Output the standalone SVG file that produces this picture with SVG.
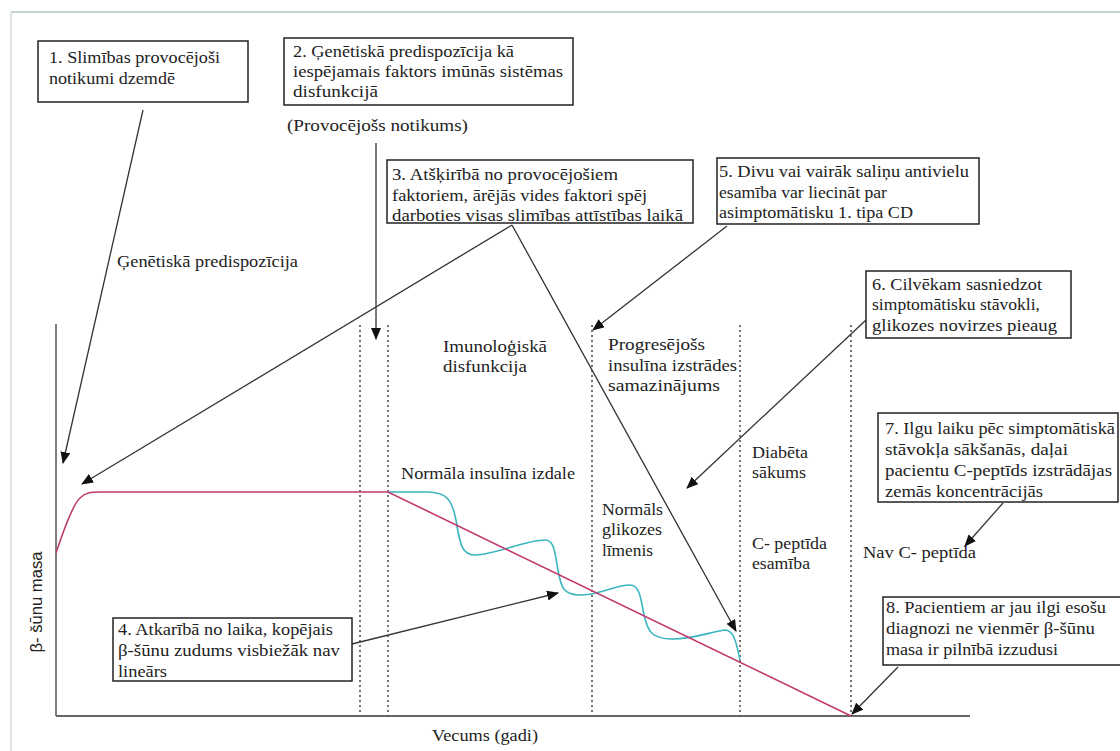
<svg xmlns="http://www.w3.org/2000/svg" width="1120" height="751" viewBox="0 0 1120 751">
<style>
.t{font-family:"Liberation Serif","DejaVu Serif","Times New Roman",serif;font-size:17px;fill:#222}
.s{font-family:"Liberation Sans",Arial,sans-serif;font-size:16px;fill:#222}
.box{fill:#fff;stroke:#222;stroke-width:1.5}
.ar{stroke:#333;stroke-width:1.3;fill:none;marker-end:url(#ah)}
.dot{stroke:#444;stroke-width:1.5;stroke-dasharray:2 3;fill:none}
</style>
<defs>
<marker id="ah" viewBox="0 0 12 10" refX="11" refY="5" markerWidth="12" markerHeight="10" markerUnits="userSpaceOnUse" orient="auto">
<path d="M0,0 L12,5 L0,10 Z" fill="#111"/>
</marker>
</defs>
<rect width="1120" height="751" fill="#fff"/>
<line x1="11" y1="12" x2="1120" y2="12" stroke="#b5c2c4" stroke-width="1.5"/>
<line x1="11" y1="12" x2="11" y2="751" stroke="#d3dcde" stroke-width="1.5"/>

<g id="axes">
<line x1="56" y1="324" x2="56" y2="716" stroke="#555" stroke-width="1.5"/>
<line x1="56" y1="716" x2="970" y2="716" stroke="#666" stroke-width="1.8"/>
<text class="s" transform="translate(42,602) rotate(-90)" text-anchor="middle" textLength="101" lengthAdjust="spacingAndGlyphs">β- šūnu masa</text>
<text class="t" x="432" y="741" textLength="106" lengthAdjust="spacingAndGlyphs">Vecums (gadi)</text>
</g>

<g id="dividers">
<line class="dot" x1="360" y1="325" x2="360" y2="716"/>
<line class="dot" x1="388" y1="325" x2="388" y2="716"/>
<line class="dot" x1="592" y1="325" x2="592" y2="716"/>
<line class="dot" x1="740" y1="325" x2="740" y2="716"/>
<line class="dot" x1="851" y1="325" x2="851" y2="716"/>
</g>

<g id="curves">
<path d="M388,492 L427,492 C447,492 452,500 456,520 C460,545 462,555 475,555 C495,555 525,540 545,540 C555,540 555,555 558,570 C561,588 564,595 580,595 C600,595 615,585 630,585 C640,585 641,600 644,615 C648,632 652,638 670,639 C690,640 710,632 725,630 C733,630 736,640 740,660" fill="none" stroke="#3bb5c0" stroke-width="1.6"/>
<path d="M56,553 C62,535 72,505 80,498 C86,492 92,492 100,492 L388,492 L851,716" fill="none" stroke="#c23a6c" stroke-width="1.6"/>
</g>

<g id="labels">
<text class="t" x="117" y="267" textLength="181" lengthAdjust="spacingAndGlyphs">Ģenētiskā predispozīcija</text>
<text class="t" x="287" y="131" textLength="181" lengthAdjust="spacingAndGlyphs">(Provocējošs notikums)</text>
<text class="t" x="443" y="352" textLength="104" lengthAdjust="spacingAndGlyphs">Imunoloģiskā</text>
<text class="t" x="443" y="372" textLength="84" lengthAdjust="spacingAndGlyphs">disfunkcija</text>
<text class="t" x="608" y="350" textLength="97" lengthAdjust="spacingAndGlyphs">Progresējošs</text>
<text class="t" x="608" y="371" textLength="129" lengthAdjust="spacingAndGlyphs">insulīna izstrādes</text>
<text class="t" x="608" y="391" textLength="112" lengthAdjust="spacingAndGlyphs">samazinājums</text>
<text class="t" x="401" y="479" textLength="174" lengthAdjust="spacingAndGlyphs">Normāla insulīna izdale</text>
<text class="t" x="602" y="515" textLength="61" lengthAdjust="spacingAndGlyphs">Normāls</text>
<text class="t" x="602" y="535" textLength="60" lengthAdjust="spacingAndGlyphs">glikozes</text>
<text class="t" x="602" y="556" textLength="51" lengthAdjust="spacingAndGlyphs">līmenis</text>
<text class="t" x="752" y="458" textLength="56" lengthAdjust="spacingAndGlyphs">Diabēta</text>
<text class="t" x="752" y="478" textLength="54" lengthAdjust="spacingAndGlyphs">sākums</text>
<text class="t" x="752" y="549" textLength="75" lengthAdjust="spacingAndGlyphs">C- peptīda</text>
<text class="t" x="752" y="569" textLength="58" lengthAdjust="spacingAndGlyphs">esamība</text>
<text class="t" x="863" y="558" textLength="113" lengthAdjust="spacingAndGlyphs">Nav C- peptīda</text>
</g>

<g id="connectors">
<line class="ar" x1="143" y1="110" x2="63" y2="463"/>
<line class="ar" x1="376" y1="143" x2="376" y2="339"/>
<line class="ar" x1="512" y1="225" x2="82" y2="484"/>
<line class="ar" x1="512" y1="225" x2="736" y2="631"/>
<line class="ar" x1="727" y1="226" x2="593" y2="330"/>
<line class="ar" x1="866" y1="320" x2="687" y2="488"/>
<line class="ar" x1="352" y1="644" x2="558" y2="593"/>
<line class="ar" x1="1003" y1="503" x2="965" y2="546"/>
<line class="ar" x1="898" y1="667" x2="852" y2="714"/>
</g>

<g id="box1">
<rect class="box" x="38" y="41" width="210" height="61"/>
<text class="t" x="49" y="63" textLength="171" lengthAdjust="spacingAndGlyphs">1. Slimības provocējoši</text>
<text class="t" x="49" y="84" textLength="126" lengthAdjust="spacingAndGlyphs">notikumi dzemdē</text>
</g>
<g id="box2">
<rect class="box" x="284" y="38" width="289" height="67"/>
<text class="t" x="293" y="57" textLength="221" lengthAdjust="spacingAndGlyphs">2. Ģenētiskā predispozīcija kā</text>
<text class="t" x="293" y="77" textLength="270" lengthAdjust="spacingAndGlyphs">iespējamais faktors imūnās sistēmas</text>
<text class="t" x="293" y="97" textLength="85" lengthAdjust="spacingAndGlyphs">disfunkcijā</text>
</g>
<g id="box3">
<rect class="box" x="387" y="160" width="306" height="63"/>
<text class="t" x="392" y="180" textLength="226" lengthAdjust="spacingAndGlyphs">3. Atšķirībā no provocējošiem</text>
<text class="t" x="392" y="201" textLength="255" lengthAdjust="spacingAndGlyphs">faktoriem, ārējās vides faktori spēj</text>
<text class="t" x="392" y="221" textLength="291" lengthAdjust="spacingAndGlyphs">darboties visas slimības attīstības laikā</text>
</g>
<g id="box4">
<rect class="box" x="113" y="618" width="239" height="63"/>
<text class="t" x="118" y="635" textLength="215" lengthAdjust="spacingAndGlyphs">4. Atkarībā no laika, kopējais</text>
<text class="t" x="118" y="656" textLength="222" lengthAdjust="spacingAndGlyphs">β-šūnu zudums visbiežāk nav</text>
<text class="t" x="118" y="677" textLength="49" lengthAdjust="spacingAndGlyphs">lineārs</text>
</g>
<g id="box5">
<rect class="box" x="717" y="158" width="262" height="66"/>
<text class="t" x="719" y="177" textLength="250" lengthAdjust="spacingAndGlyphs">5. Divu vai vairāk saliņu antivielu</text>
<text class="t" x="719" y="198" textLength="168" lengthAdjust="spacingAndGlyphs">esamība var liecināt par</text>
<text class="t" x="719" y="218" textLength="194" lengthAdjust="spacingAndGlyphs">asimptomātisku 1. tipa CD</text>
</g>
<g id="box6">
<rect class="box" x="866" y="271" width="205" height="67"/>
<text class="t" x="872" y="290" textLength="170" lengthAdjust="spacingAndGlyphs">6. Cilvēkam sasniedzot</text>
<text class="t" x="872" y="310" textLength="168" lengthAdjust="spacingAndGlyphs">simptomātisku stāvokli,</text>
<text class="t" x="872" y="331" textLength="185" lengthAdjust="spacingAndGlyphs">glikozes novirzes pieaug</text>
</g>
<g id="box7">
<rect class="box" x="878" y="413" width="240" height="89"/>
<text class="t" x="885" y="434" textLength="230" lengthAdjust="spacingAndGlyphs">7. Ilgu laiku pēc simptomātiskā</text>
<text class="t" x="885" y="455" textLength="183" lengthAdjust="spacingAndGlyphs">stāvokļa sākšanās, daļai</text>
<text class="t" x="885" y="476" textLength="227" lengthAdjust="spacingAndGlyphs">pacientu C-peptīds izstrādājas</text>
<text class="t" x="885" y="497" textLength="158" lengthAdjust="spacingAndGlyphs">zemās koncentrācijās</text>
</g>
<g id="box8">
<rect class="box" x="883" y="597" width="245" height="68"/>
<text class="t" x="886" y="613" textLength="220" lengthAdjust="spacingAndGlyphs">8. Pacientiem ar jau ilgi esošu</text>
<text class="t" x="886" y="634" textLength="209" lengthAdjust="spacingAndGlyphs">diagnozi ne vienmēr β-šūnu</text>
<text class="t" x="886" y="655" textLength="172" lengthAdjust="spacingAndGlyphs">masa ir pilnībā izzudusi</text>
</g>
</svg>
